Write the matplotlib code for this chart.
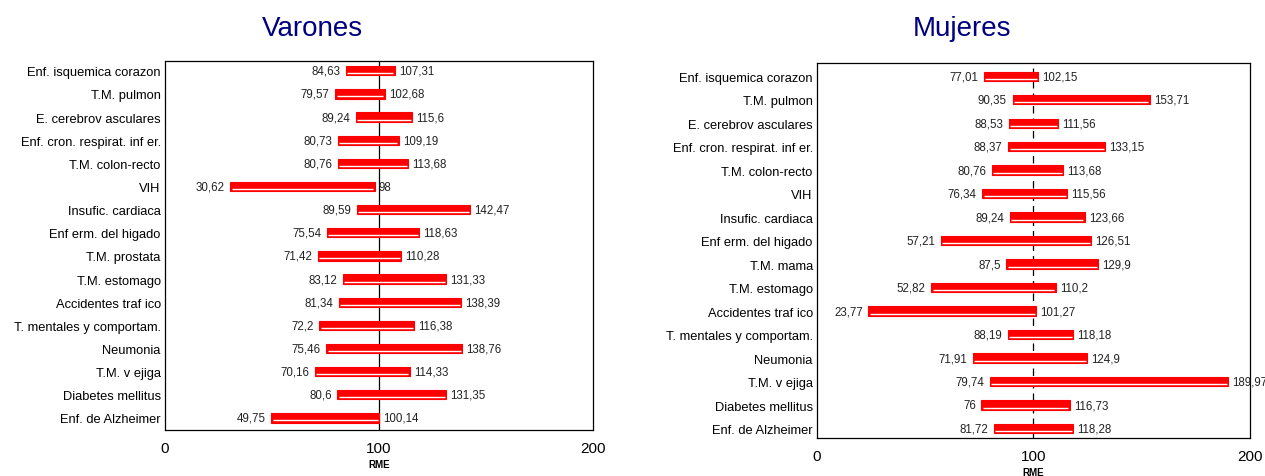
import matplotlib
matplotlib.use("Agg")
import matplotlib.pyplot as plt
from matplotlib import font_manager

names = {f.name for f in font_manager.fontManager.ttflist}
NARROW = 'Liberation Sans Narrow' if 'Liberation Sans Narrow' in names else 'Liberation Sans'
plt.rcParams['font.family'] = [NARROW, 'DejaVu Sans']

# ---- data ----
cats_v = ["Enf. isquemica corazon", "T.M. pulmon", "E. cerebrov asculares",
          "Enf. cron. respirat. inf er.", "T.M. colon-recto", "VIH",
          "Insufic. cardiaca", "Enf erm. del higado", "T.M. prostata",
          "T.M. estomago", "Accidentes traf ico", "T. mentales y comportam.",
          "Neumonia", "T.M. v ejiga", "Diabetes mellitus", "Enf. de Alzheimer"]
low_v = [84.63, 79.57, 89.24, 80.73, 80.76, 30.62, 89.59, 75.54, 71.42, 83.12,
         81.34, 72.2, 75.46, 70.16, 80.6, 49.75]
high_v = [107.31, 102.68, 115.6, 109.19, 113.68, 98, 142.47, 118.63, 110.28,
          131.33, 138.39, 116.38, 138.76, 114.33, 131.35, 100.14]

cats_m = ["Enf. isquemica corazon", "T.M. pulmon", "E. cerebrov asculares",
          "Enf. cron. respirat. inf er.", "T.M. colon-recto", "VIH",
          "Insufic. cardiaca", "Enf erm. del higado", "T.M. mama",
          "T.M. estomago", "Accidentes traf ico", "T. mentales y comportam.",
          "Neumonia", "T.M. v ejiga", "Diabetes mellitus", "Enf. de Alzheimer"]
low_m = [77.01, 90.35, 88.53, 88.37, 80.76, 76.34, 89.24, 57.21, 87.5, 52.82,
         23.77, 88.19, 71.91, 79.74, 76, 81.72]
high_m = [102.15, 153.71, 111.56, 133.15, 113.68, 115.56, 123.66, 126.51, 129.9,
          110.2, 101.27, 118.18, 124.9, 189.97, 116.73, 118.28]

xticks = [0, 100, 200]


def fmt(v):
    return f"{v:g}".replace('.', ',')


fig = plt.figure(figsize=(12.65, 4.77), dpi=100)


def panel(rect, cats, low, high, title, title_x, dashed, ylim_pad):
    ax = fig.add_axes(rect)
    n = len(cats)
    ys = list(range(n))
    h = 0.40
    for y, lo, hi in zip(ys, low, high):
        ax.barh(y, hi - lo, left=lo, height=h, color='#ff0000',
                edgecolor='#ff0000', linewidth=0.8, zorder=2)
        ax.plot([lo + 0.6, hi - 0.6], [y + h * 0.27, y + h * 0.27],
                color='white', linewidth=1.0, zorder=3, solid_capstyle='butt')
        ax.annotate(fmt(lo), (lo, y), xytext=(-4, 0), textcoords='offset points',
                    ha='right', va='center', fontsize=8.3, color='#222222')
        ax.annotate(fmt(hi), (hi, y), xytext=(3, 0), textcoords='offset points',
                    ha='left', va='center', fontsize=8.3, color='#222222',
                    annotation_clip=False)
    ax.axvline(100, color='black', linewidth=0.9, zorder=1,
               linestyle=(0, (6, 4)) if dashed else '-')
    ax.set_xlim(0, 200)
    ax.set_ylim(n - 1 + ylim_pad[1], -ylim_pad[0])
    ax.set_yticks(ys)
    ax.set_yticklabels(cats, fontsize=9.3)
    ax.set_xticks(xticks)
    ax.set_xticklabels([str(t) for t in xticks], fontsize=11)
    ax.tick_params(axis='y', length=0, pad=3)
    ax.tick_params(axis='x', length=0, pad=8)
    ax.set_xlabel("RME", fontsize=7, fontweight='bold', labelpad=3)
    for s in ax.spines.values():
        s.set_linewidth(0.9)
    fig.text(title_x, 0.94, title, ha='center', va='center', fontsize=20,
             color='#000080')
    return ax


panel([0.1304, 0.0964, 0.3384, 0.774], cats_v, low_v, high_v, "Varones",
      0.2466, False, (0.43, 0.52))
panel([0.6458, 0.0797, 0.3423, 0.786], cats_m, low_m, high_m, "Mujeres",
      0.7605, True, (0.56, 0.40))

fig.savefig("out.png", dpi=100)
